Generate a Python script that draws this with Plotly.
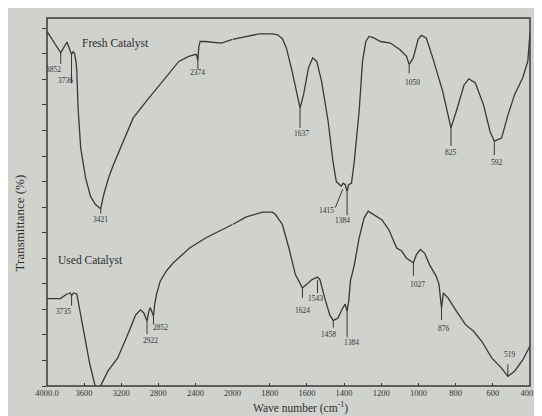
import plotly.graph_objects as go

# FTIR spectra (wave number in cm-1, transmittance in arbitrary %)
fresh_wn = [4000, 3918, 3852, 3785, 3736, 3718, 3702, 3688, 3679, 3665, 3637, 3584, 3531, 3478,
            3421, 3389, 3337, 3284, 3196, 3072, 2931, 2755, 2579, 2473, 2420, 2395, 2384, 2374,
            2364, 2350, 2296, 2120, 2000, 1961, 1856, 1785, 1757, 1731, 1710, 1680, 1653, 1637,
            1618, 1592, 1569, 1547, 1521, 1486, 1460, 1442, 1415, 1405, 1394, 1384, 1375, 1360,
            1345, 1319, 1301, 1283, 1266, 1240, 1204, 1151, 1099, 1064, 1050, 1028, 1002, 985,
            958, 923, 870, 835, 825, 791, 755, 729, 694, 650, 615, 592, 553, 518, 483, 439, 412, 400]
fresh_t = [69.4, 67.1, 65.2, 67.3, 64.9, 65.4, 65.0, 63.5, 61.8, 54.4, 46.6, 40.7, 37.1, 35.5,
           34.7, 37.4, 40.7, 43.3, 47.2, 52.4, 55.7, 59.6, 63.5, 64.5, 64.8, 64.9, 64.6, 63.6,
           66.3, 67.4, 67.4, 67.1, 67.8, 68.1, 68.9, 68.9, 68.7, 67.9, 66.1, 61.6, 57.0, 54.4,
           57.0, 62.2, 64.2, 63.5, 59.6, 51.8, 44.0, 40.0, 39.1, 39.7, 39.4, 38.1, 39.4, 39.7,
           44.0, 53.8, 63.5, 67.4, 68.4, 68.1, 67.4, 67.1, 65.8, 64.5, 62.9, 64.2, 67.8, 68.6,
           68.1, 64.2, 57.7, 52.4, 50.5, 54.4, 58.9, 60.1, 59.3, 55.0, 49.8, 47.9, 48.5, 53.1,
           57.0, 60.3, 63.5, 69.1]

used_wn = [4000, 3855, 3785, 3749, 3735, 3714, 3679, 3643, 3591, 3538, 3485, 3440, 3415, 3344,
           3238, 3132, 3045, 2992, 2956, 2922, 2903, 2886, 2868, 2852, 2840, 2820, 2780, 2709,
           2638, 2463, 2286, 2074, 2000, 1926, 1838, 1785, 1768, 1732, 1697, 1662, 1624, 1609,
           1574, 1543, 1530, 1504, 1477, 1458, 1433, 1407, 1394, 1384, 1375, 1366, 1345, 1319,
           1292, 1270, 1240, 1196, 1160, 1117, 1090, 1064, 1027, 1011, 990, 967, 940, 905, 890,
           876, 866, 840, 795, 747, 703, 659, 606, 553, 519, 483, 439, 400]
used_t = [17.1, 17.1, 18.0, 18.2, 17.7, 18.2, 18.0, 14.7, 9.4, 4.2, 0.3, -1.5, 0.3, 2.9,
          5.5, 10.0, 13.9, 14.9, 14.3, 12.7, 14.6, 15.3, 14.6, 13.7, 15.9, 17.9, 20.5, 22.6,
          24.1, 27.0, 29.0, 30.9, 31.6, 33.1, 34.0, 34.0, 33.5, 31.6, 27.0, 21.8, 19.2, 19.7,
          20.8, 21.3, 20.8, 17.2, 13.9, 12.8, 13.3, 15.3, 16.0, 14.6, 16.6, 20.5, 23.7, 29.0,
          32.9, 34.2, 33.5, 32.5, 30.6, 27.0, 26.4, 25.0, 24.1, 25.7, 26.7, 26.0, 23.7, 21.5, 20.0,
          15.3, 18.2, 17.2, 14.6, 12.0, 10.7, 8.7, 5.5, 3.5, 1.9, 2.9, 5.1, 7.8]

fresh_peaks = [3852, 3736, 3421, 2374, 1637, 1415, 1384, 1050, 825, 592]
used_peaks = [3735, 2922, 2852, 1624, 1543, 1458, 1384, 1027, 876, 519]

ticks_high = [4000, 3600, 3200, 2800, 2400, 2000]
ticks_low = [1800, 1600, 1400, 1200, 1000, 800, 600, 400]

# label placement in pixels: (tick x0, y0, x1, y1, text dx, text dy)
fresh_place = {
    3852: (0, 0, 0, -11, -7.5, -17), 3736: (0, 0, 0, -29, -6, -26),
    3421: (0, 0, 0, -5, 0, -10.5), 2374: (0, 0, 0, -8, 0, -12),
    1637: (0, 0, 0, -20, 1.5, -26), 1415: (1.5, -3, -6, -21.5, -15, -24.5),
    1384: (0, 0, 0, -24, -5, -29), 1050: (0, 0, 0, -9, 3, -18),
    825: (0, 0, 0, -18, 0, -25), 592: (0, 0, 0, -14, 3, -21),
}
used_place = {
    3735: (0, 0, 0, -10, -8, -16), 2922: (0, 0, 0, -13, 3, -19.5),
    2852: (0, 0, 0, -8, 7, -12), 1624: (0, 0, 0, -10, 0, -23),
    1543: (0, -3, 0, -16, -2, -21), 1458: (0, 0, 0, -7, -5, -13.5),
    1384: (0, 0, 0, -26, 4, -31), 1027: (0, 0, 0, -13, 4, -21.5),
    876: (0, 0, 0, -12, 2, -20.5), 519: (0, 0, 0, 12, 2, 21.5),
}

LINE = "#383838"
BG = "#d0d2ce"
SERIF = "Liberation Serif, Times New Roman, serif"
SPLIT = 189 / 492  # 4000-2000 drawn at half the scale of 2000-400


def axis_of(w):
    return "x" if w > 2000 else "x2"


fig = go.Figure()

for wn, t in [(fresh_wn, fresh_t), (used_wn, used_t)]:
    hi = [(w, v) for w, v in zip(wn, t) if w >= 2000]
    lo = [(w, v) for w, v in zip(wn, t) if w <= 2000]
    for part, ax in [(hi, "x"), (lo, "x2")]:
        fig.add_trace(go.Scatter(
            x=[p[0] for p in part], y=[p[1] for p in part],
            mode="lines", xaxis=ax, yaxis="y",
            line=dict(color=LINE, width=1.3), hoverinfo="skip",
        ))

shapes = [dict(type="rect", xref="paper", yref="paper", x0=0, x1=1, y0=0, y1=1,
               line=dict(color=LINE, width=1.5))]
annotations = []
for wn, t, peaks, place in [(fresh_wn, fresh_t, fresh_peaks, fresh_place),
                            (used_wn, used_t, used_peaks, used_place)]:
    for p in peaks:
        yv = t[wn.index(p)]
        tx0, ty0, tx1, ty1, dx, dy = place[p]
        ax = axis_of(p)
        shapes.append(dict(
            type="line", xref=ax, yref="y", xsizemode="pixel", ysizemode="pixel",
            xanchor=p, yanchor=yv, x0=tx0, x1=tx1, y0=ty0, y1=ty1,
            line=dict(color=LINE, width=1),
        ))
        annotations.append(dict(
            x=p, y=yv, xref=ax, yref="y", text=str(p), showarrow=False,
            xshift=dx, yshift=dy, font=dict(family=SERIF, size=7.5, color="#333333"),
        ))

annotations += [
    dict(x=3259, y=67.1, xref="x", yref="y", text="Fresh Catalyst", showarrow=False,
         font=dict(family=SERIF, size=11.5, color="#2e2e2e")),
    dict(x=3534, y=24.5, xref="x", yref="y", text="Used Catalyst", showarrow=False,
         font=dict(family=SERIF, size=11.5, color="#2e2e2e")),
    dict(x=0.524, y=-0.084, xref="paper", yref="paper", text="Wave number (cm<sup>-1</sup>)",
         xanchor="center", yanchor="bottom",
         showarrow=False, font=dict(family=SERIF, size=11.5, color="#2e2e2e")),
    dict(x=-0.055, y=0.443, xref="paper", yref="paper", text="Transmittance (%)",
         xanchor="center", yanchor="middle",
         textangle=-90, showarrow=False, font=dict(family=SERIF, size=13, color="#2e2e2e")),
]

xcommon = dict(showgrid=False, zeroline=False, showline=False, ticks="inside", ticklen=3,
               tickcolor=LINE, tickfont=dict(family=SERIF, size=8.5, color="#333333"),
               anchor="y")

fig.update_layout(
    width=542, height=416,
    margin=dict(l=39, r=11, t=10, b=38),
    paper_bgcolor=BG, plot_bgcolor=BG,
    showlegend=False,
    xaxis=dict(domain=[0, SPLIT], range=[4000, 2000], tickvals=ticks_high,
               ticktext=["4000.0" if v == 4000 else str(v) for v in ticks_high], **xcommon),
    xaxis2=dict(domain=[SPLIT, 1], range=[2000, 400], tickvals=ticks_low,
                ticktext=["400.0" if v == 400 else str(v) for v in ticks_low], **xcommon),
    yaxis=dict(range=[0, 72], tick0=0, dtick=5, ticks="outside", ticklen=4, tickcolor=LINE,
               showticklabels=False, showgrid=False, zeroline=False, showline=False),
    shapes=shapes,
    annotations=annotations,
)

fig.write_html("out.html")
